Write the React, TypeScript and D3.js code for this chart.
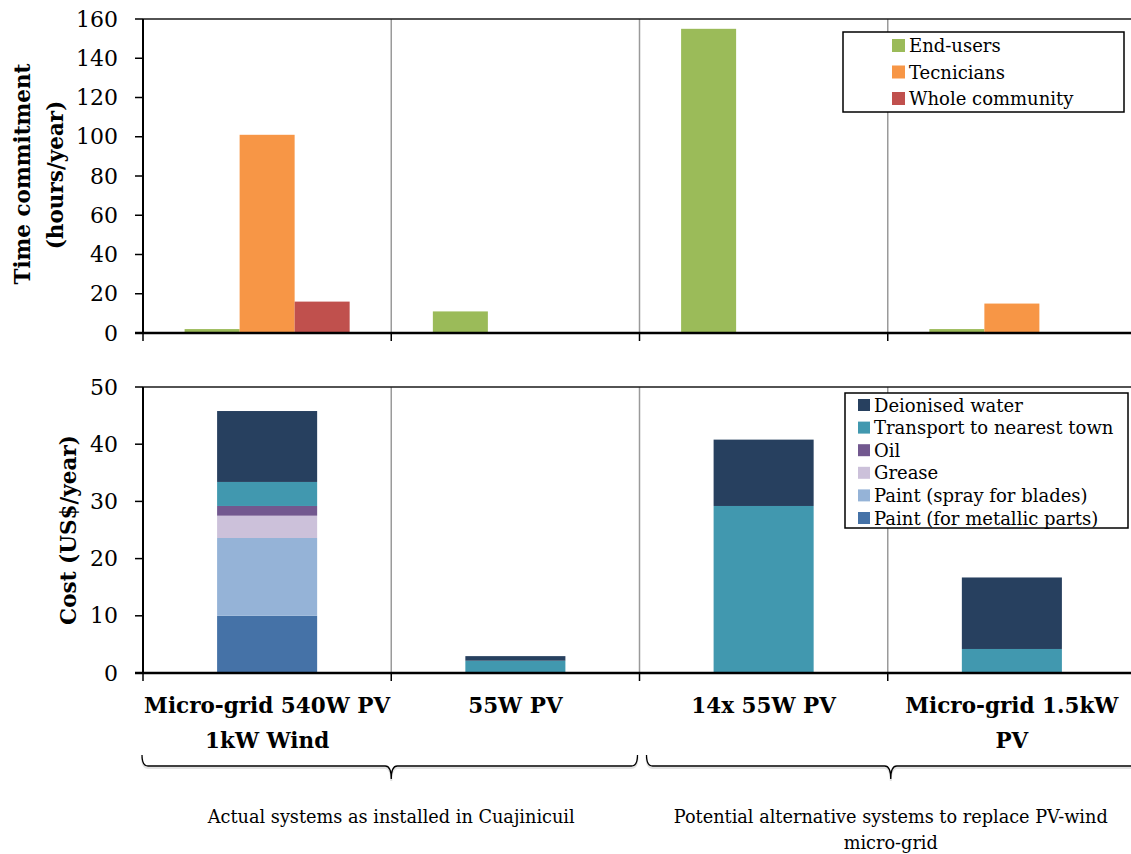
import React from "react";
import * as d3 from "d3";

// Categories (systems)
const categories = [
  "Micro-grid 540W PV|1kW Wind",
  "55W PV",
  "14x 55W PV",
  "Micro-grid 1.5kW|PV",
];

// Time commitment (hours/year)
const timeSeries = ["End-users", "Tecnicians", "Whole community"];
const endUsers = [2, 11, 155, 2];
const tecnicians = [101, 0, 0, 15];
const wholeCommunity = [16, 0, 0, 0];
const timeColors = ["#9BBB59", "#F79646", "#C0504D"];

// Cost (US$/year), stacked bottom to top
const costSeries = [
  "Paint (for metallic parts)",
  "Paint (spray for blades)",
  "Grease",
  "Oil",
  "Transport to nearest town",
  "Deionised water",
];
const paintMetallic = [10.0, 0, 0, 0];
const paintSpray = [13.6, 0, 0, 0];
const grease = [3.9, 0, 0, 0];
const oil = [1.7, 0, 0, 0];
const transport = [4.2, 2.15, 29.2, 4.2];
const deionisedWater = [12.4, 0.8, 11.6, 12.5];
const costColors = ["#4572A7", "#95B3D7", "#CCC1DA", "#72588F", "#4198AF", "#27405F"];

const timeTicks = [0, 20, 40, 60, 80, 100, 120, 140, 160];
const costTicks = [0, 10, 20, 30, 40, 50];

const groups = [
  { label: ["Actual systems as installed in Cuajinicuil"], from: 0, to: 1 },
  { label: ["Potential alternative systems to replace PV-wind", "micro-grid"], from: 2, to: 3 },
];

const FONT = "'DejaVu Serif', serif";

export default function App() {
  const W = 1131;
  const H = 854;
  const left = 143;
  const right = 1136;

  const x = d3.scaleBand<string>().domain(categories).range([left, right]).padding(0);
  const bw = x.bandwidth();

  // top panel
  const yT = d3.scaleLinear().domain([0, 160]).range([333, 19]);
  const barW = bw * 0.2216;
  const gap = (bw - barW * 3) / 2;
  const xs = d3.scaleBand<string>().domain(timeSeries).range([gap, bw - gap]).padding(0);
  const timeData = [endUsers, tecnicians, wholeCommunity];

  // bottom panel
  const yB = d3.scaleLinear().domain([0, 50]).range([673, 387]);
  const stackW = bw * 0.403;
  const costArrays = [paintMetallic, paintSpray, grease, oil, transport, deionisedWater];
  const rows = categories.map((c, i) => {
    const r: Record<string, number | string> = { cat: c };
    costSeries.forEach((s, k) => (r[s] = costArrays[k][i]));
    return r;
  });
  const stacked = d3.stack<any>().keys(costSeries)(rows);

  const sepX = categories.slice(1).map((c) => x(c)!);
  const tickX = categories.map((c) => x(c)!);

  const brace = (x1: number, x2: number, cx: number) => {
    const t = 755, m = 766, b = 779, r = 6;
    return `M${x1},${t} Q${x1},${m} ${x1 + r},${m} L${cx - r},${m} Q${cx},${m} ${cx},${b} Q${cx},${m} ${cx + r},${m} L${x2 - r},${m} Q${x2},${m} ${x2},${t}`;
  };

  const panelFrame = (y: d3.ScaleLinear<number, number>, ticks: number[]) => {
    const [y0, y1] = y.range();
    return (
      <g>
        {sepX.map((sx, i) => (
          <line key={"s" + i} x1={sx} x2={sx} y1={y1} y2={y0} stroke="#9a9a9a" strokeWidth={1.5} />
        ))}
        <line x1={left} x2={W} y1={y1} y2={y1} stroke="#1a1a1a" strokeWidth={1.5} />
        {ticks.map((t) => (
          <g key={t}>
            <line x1={left - 8} x2={left} y1={y(t)} y2={y(t)} stroke="#000" strokeWidth={1.5} />
            <text
              x={118}
              y={y(t)}
              textAnchor="end"
              dominantBaseline="central"
              fontFamily={FONT}
              fontSize={22}
              fill="#000"
            >
              {t}
            </text>
          </g>
        ))}
        {tickX.map((tx, i) => (
          <line key={"t" + i} x1={tx} x2={tx} y1={y0} y2={y0 + 8} stroke="#000" strokeWidth={1.5} />
        ))}
        <line x1={left} x2={left} y1={y1} y2={y0} stroke="#000" strokeWidth={2} />
        <line x1={left - 8} x2={W} y1={y0} y2={y0} stroke="#000" strokeWidth={2.5} />
      </g>
    );
  };

  return (
    <svg
      width={W}
      height={H}
      style={{ position: "absolute", left: 0, top: 0, background: "#fff" }}
    >
      <rect x={0} y={0} width={W} height={H} fill="#fff" />

      {/* Time commitment bars */}
      {categories.map((c, i) =>
        timeSeries.map((s, k) => {
          const v = timeData[k][i];
          if (!v) return null;
          return (
            <rect
              key={c + s}
              x={x(c)! + xs(s)!}
              y={yT(v)}
              width={xs.bandwidth()}
              height={yT(0) - yT(v)}
              fill={timeColors[k]}
            />
          );
        })
      )}

      {/* Cost stacks */}
      {stacked.map((layer, k) =>
        layer.map((d, i) => {
          if (d[1] - d[0] <= 0) return null;
          return (
            <rect
              key={layer.key + i}
              x={x(categories[i])! + (bw - stackW) / 2}
              y={yB(d[1])}
              width={stackW}
              height={yB(d[0]) - yB(d[1])}
              fill={costColors[k]}
            />
          );
        })
      )}

      {panelFrame(yT, timeTicks)}
      {panelFrame(yB, costTicks)}

      {/* Axis titles */}
      <text
        transform={`translate(22,174) rotate(-90)`}
        textAnchor="middle"
        dominantBaseline="central"
        fontFamily={FONT}
        fontWeight="bold"
        fontSize={21.5}
      >
        Time commitment
      </text>
      <text
        transform={`translate(55,175) rotate(-90)`}
        textAnchor="middle"
        dominantBaseline="central"
        fontFamily={FONT}
        fontWeight="bold"
        fontSize={21.5}
      >
        (hours/year)
      </text>
      <text
        transform={`translate(68,530) rotate(-90)`}
        textAnchor="middle"
        dominantBaseline="central"
        fontFamily={FONT}
        fontWeight="bold"
        fontSize={21.5}
      >
        Cost (US$/year)
      </text>

      {/* Top legend */}
      <g>
        <rect x={843} y={32} width={281} height={80} fill="#fff" stroke="#000" strokeWidth={1.5} />
        {timeSeries.map((s, k) => (
          <g key={s}>
            <rect x={892} y={39 + k * 26.5} width={13} height={13} fill={timeColors[k]} />
            <text x={909} y={45.5 + k * 26.5} dominantBaseline="central" fontFamily={FONT} fontSize={18}>
              {s}
            </text>
          </g>
        ))}
      </g>

      {/* Bottom legend (top entry is the top of the stack) */}
      <g>
        <rect x={845} y={393} width={283} height={135} fill="#fff" stroke="#000" strokeWidth={1.5} />
        {costSeries
          .slice()
          .reverse()
          .map((s, k) => (
            <g key={s}>
              <rect x={858} y={399 + k * 22.6} width={12} height={12} fill={costColors[costSeries.length - 1 - k]} />
              <text x={874} y={405 + k * 22.6} dominantBaseline="central" fontFamily={FONT} fontSize={18}>
                {s}
              </text>
            </g>
          ))}
      </g>

      {/* Category labels */}
      {categories.map((c) =>
        c.split("|").map((line, j) => (
          <text
            key={c + j}
            x={x(c)! + bw / 2}
            y={713 + j * 35}
            textAnchor="middle"
            fontFamily={FONT}
            fontWeight="bold"
            fontSize={21.5}
          >
            {line}
          </text>
        ))
      )}

      {/* Group braces and captions */}
      {groups.map((g, gi) => {
        const x1 = gi === 0 ? x(categories[g.from])! - 1 : x(categories[g.from])! + 7;
        const x2 = gi === 0 ? x(categories[g.to])! + bw - 2 : x(categories[g.to])! + bw + 6;
        const cx = gi === 0 ? x(categories[g.to])! : x(categories[g.to])! + 3;
        return (
          <g key={gi}>
            <path d={brace(x1, x2, cx)} transform="translate(0,2)" fill="none" stroke="#e2e2e2" strokeWidth={2} />
            <path d={brace(x1, x2, cx)} fill="none" stroke="#000" strokeWidth={1.3} />
            {g.label.map((l, j) => (
              <text
                key={j}
                x={cx}
                y={823 + j * 26}
                textAnchor="middle"
                fontFamily={FONT}
                fontSize={17.7}
              >
                {l}
              </text>
            ))}
          </g>
        );
      })}
    </svg>
  );
}
